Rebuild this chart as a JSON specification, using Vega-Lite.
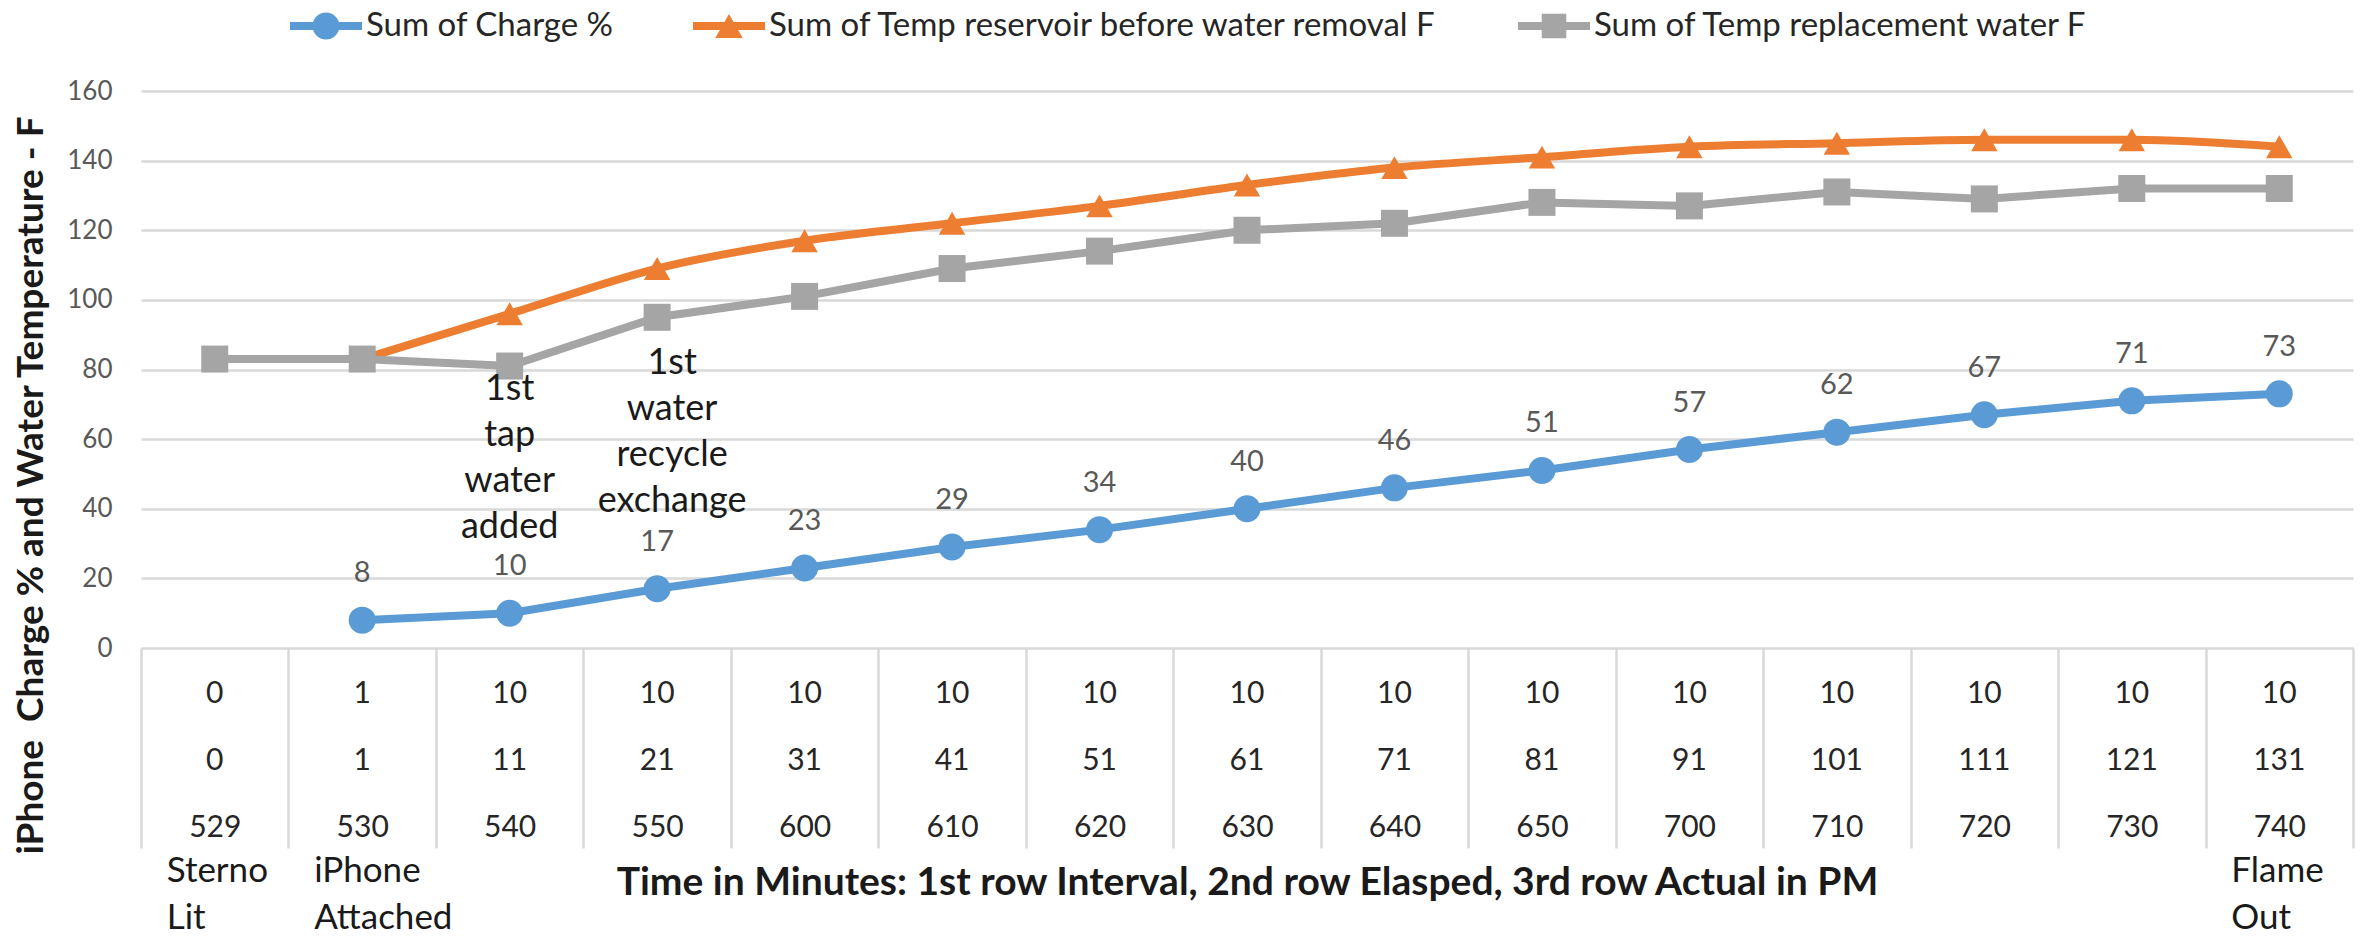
{
  "$schema": "https://vega.github.io/schema/vega-lite/v6.json",
  "autosize": "none",
  "width": 2212,
  "height": 557,
  "padding": {"left": 141, "top": 91, "right": 21, "bottom": 295},
  "background": "white",
  "config": {"font": "Lato", "view": {"stroke": null}},
  "datasets": {
    "table": [
      {"Actual": "529", "Interval": 0, "Elapsed": 0, "Event": "Sterno Lit"},
      {"Actual": "530", "Interval": 1, "Elapsed": 1, "Event": "iPhone Attached"},
      {"Actual": "540", "Interval": 10, "Elapsed": 11, "Event": null},
      {"Actual": "550", "Interval": 10, "Elapsed": 21, "Event": null},
      {"Actual": "600", "Interval": 10, "Elapsed": 31, "Event": null},
      {"Actual": "610", "Interval": 10, "Elapsed": 41, "Event": null},
      {"Actual": "620", "Interval": 10, "Elapsed": 51, "Event": null},
      {"Actual": "630", "Interval": 10, "Elapsed": 61, "Event": null},
      {"Actual": "640", "Interval": 10, "Elapsed": 71, "Event": null},
      {"Actual": "650", "Interval": 10, "Elapsed": 81, "Event": null},
      {"Actual": "700", "Interval": 10, "Elapsed": 91, "Event": null},
      {"Actual": "710", "Interval": 10, "Elapsed": 101, "Event": null},
      {"Actual": "720", "Interval": 10, "Elapsed": 111, "Event": null},
      {"Actual": "730", "Interval": 10, "Elapsed": 121, "Event": null},
      {"Actual": "740", "Interval": 10, "Elapsed": 131, "Event": "Flame Out"}
    ],
    "readings": [
      {"Actual": "529", "Note": null, "Sum of Charge %": null, "Sum of Temp reservoir before water removal F": null, "Sum of Temp replacement water F": 83},
      {"Actual": "530", "Note": null, "Sum of Charge %": 8, "Sum of Temp reservoir before water removal F": 83, "Sum of Temp replacement water F": 83},
      {"Actual": "540", "Note": "1st tap water added", "Sum of Charge %": 10, "Sum of Temp reservoir before water removal F": 96, "Sum of Temp replacement water F": 81},
      {"Actual": "550", "Note": "1st water recycle exchange", "Sum of Charge %": 17, "Sum of Temp reservoir before water removal F": 109, "Sum of Temp replacement water F": 95},
      {"Actual": "600", "Note": null, "Sum of Charge %": 23, "Sum of Temp reservoir before water removal F": 117, "Sum of Temp replacement water F": 101},
      {"Actual": "610", "Note": null, "Sum of Charge %": 29, "Sum of Temp reservoir before water removal F": 122, "Sum of Temp replacement water F": 109},
      {"Actual": "620", "Note": null, "Sum of Charge %": 34, "Sum of Temp reservoir before water removal F": 127, "Sum of Temp replacement water F": 114},
      {"Actual": "630", "Note": null, "Sum of Charge %": 40, "Sum of Temp reservoir before water removal F": 133, "Sum of Temp replacement water F": 120},
      {"Actual": "640", "Note": null, "Sum of Charge %": 46, "Sum of Temp reservoir before water removal F": 138, "Sum of Temp replacement water F": 122},
      {"Actual": "650", "Note": null, "Sum of Charge %": 51, "Sum of Temp reservoir before water removal F": 141, "Sum of Temp replacement water F": 128},
      {"Actual": "700", "Note": null, "Sum of Charge %": 57, "Sum of Temp reservoir before water removal F": 144, "Sum of Temp replacement water F": 127},
      {"Actual": "710", "Note": null, "Sum of Charge %": 62, "Sum of Temp reservoir before water removal F": 145, "Sum of Temp replacement water F": 131},
      {"Actual": "720", "Note": null, "Sum of Charge %": 67, "Sum of Temp reservoir before water removal F": 146, "Sum of Temp replacement water F": 129},
      {"Actual": "730", "Note": null, "Sum of Charge %": 71, "Sum of Temp reservoir before water removal F": 146, "Sum of Temp replacement water F": 132},
      {"Actual": "740", "Note": null, "Sum of Charge %": 73, "Sum of Temp reservoir before water removal F": 144, "Sum of Temp replacement water F": 132}
    ]
  },
  "encoding": {
    "x": {
      "field": "Actual",
      "type": "nominal",
      "bandPosition": 0.5,
      "scale": {"type": "band", "paddingInner": 0, "paddingOuter": 0},
      "axis": {
        "title": "Time in Minutes: 1st row Interval, 2nd row Elasped, 3rd row Actual in PM",
        "titleFont": "Lato",
        "titleFontWeight": "bold",
        "titleFontSize": 39,
        "titleColor": "#1a1a1a",
        "titleX": 1106,
        "titleY": 234,
        "titleAlign": "center",
        "titleBaseline": "middle",
        "labelAngle": 0,
        "labelFontSize": 30,
        "labelColor": "#262626",
        "labelPadding": -21,
        "labelBaseline": "middle",
        "labelOverlap": false,
        "labelFlush": false,
        "tickSize": 200,
        "tickColor": "#D9D9D9",
        "tickWidth": 2.5,
        "tickBand": "extent",
        "domain": false,
        "grid": false
      }
    }
  },
  "layer": [
    {
      "data": {"name": "readings"},
      "transform": [{"filter": "isValid(datum['Sum of Charge %'])"}],
      "mark": {"type": "line", "color": "#5B9BD5", "strokeWidth": 8, "point": {"filled": true, "shape": "circle", "size": 729, "color": "#5B9BD5"}},
      "encoding": {
        "y": {
          "field": "Sum of Charge %",
          "type": "quantitative",
          "scale": {"domain": [0, 160], "nice": false},
          "axis": {
            "title": "iPhone\u00a0 Charge % and Water Temperature - F",
            "titleFont": "Lato",
            "titleFontWeight": "bold",
            "titleFontSize": 37,
            "titleColor": "#1a1a1a",
            "titleAngle": 270,
            "titleX": -110,
            "titleY": 394,
            "titleAlign": "center",
            "titleBaseline": "middle",
            "values": [0, 20, 40, 60, 80, 100, 120, 140, 160],
            "labelFontSize": 26,
            "labelColor": "#595959",
            "labelPadding": 29,
            "ticks": false,
            "domain": false,
            "grid": true,
            "gridColor": "#D9D9D9",
            "gridWidth": 2.5
          }
        }
      }
    },
    {
      "data": {"name": "readings"},
      "transform": [{"filter": "isValid(datum['Sum of Temp reservoir before water removal F'])"}],
      "mark": {"type": "line", "color": "#ED7D31", "strokeWidth": 8, "interpolate": "monotone", "point": {"filled": true, "shape": "triangle-up", "size": 700, "color": "#ED7D31"}},
      "encoding": {
        "y": {"field": "Sum of Temp reservoir before water removal F", "type": "quantitative", "scale": {"domain": [0, 160], "nice": false}}
      }
    },
    {
      "data": {"name": "readings"},
      "transform": [{"filter": "isValid(datum['Sum of Temp replacement water F'])"}],
      "mark": {"type": "line", "color": "#A5A5A5", "strokeWidth": 8, "point": {"filled": true, "shape": "square", "size": 729, "color": "#A5A5A5"}},
      "encoding": {
        "y": {"field": "Sum of Temp replacement water F", "type": "quantitative", "scale": {"domain": [0, 160], "nice": false}}
      }
    },
    {
      "data": {"name": "readings"},
      "transform": [
        {"fold": ["Sum of Charge %", "Sum of Temp reservoir before water removal F", "Sum of Temp replacement water F"], "as": ["series", "value"]},
        {"filter": "isValid(datum.value)"}
      ],
      "mark": {"type": "point", "filled": true, "opacity": 0, "size": 5184},
      "encoding": {
        "y": {"field": "value", "type": "quantitative", "scale": {"domain": [0, 160], "nice": false}},
        "color": {
          "field": "series",
          "type": "nominal",
          "scale": {
            "domain": ["Sum of Charge %", "Sum of Temp reservoir before water removal F", "Sum of Temp replacement water F"],
            "range": ["#5B9BD5", "#ED7D31", "#A5A5A5"]
          },
          "legend": {
            "title": null,
            "orient": "none",
            "legendX": 149,
            "legendY": -101,
            "direction": "horizontal",
            "columns": 3,
            "columnPadding": 79,
            "padding": 0,
            "labelOffset": 4,
            "labelFont": "Lato",
            "labelFontSize": 33,
            "labelColor": "#262626",
            "labelLimit": 0,
            "symbolSize": 5184,
            "symbolStrokeWidth": 0,
            "symbolOpacity": 1
          }
        },
        "shape": {
          "field": "series",
          "type": "nominal",
          "scale": {
            "domain": ["Sum of Charge %", "Sum of Temp reservoir before water removal F", "Sum of Temp replacement water F"],
            "range": [
              "M-1,-0.11H1V0.11H-1Z M-0.375,0A0.375,0.375 0 1,1 0.375,0A0.375,0.375 0 1,1 -0.375,0Z",
              "M-1,-0.11H1V0.11H-1Z M0,-0.33L0.38,0.33L-0.38,0.33Z",
              "M-1,-0.11H1V0.11H-1Z M-0.34,-0.34H0.34V0.34H-0.34Z"
            ]
          },
          "legend": {
            "title": null,
            "orient": "none",
            "legendX": 149,
            "legendY": -101,
            "direction": "horizontal",
            "columns": 3,
            "columnPadding": 79,
            "padding": 0,
            "labelOffset": 4,
            "labelFont": "Lato",
            "labelFontSize": 33,
            "labelColor": "#262626",
            "labelLimit": 0,
            "symbolSize": 5184,
            "symbolStrokeWidth": 0,
            "symbolOpacity": 1
          }
        }
      }
    },
    {
      "data": {"name": "readings"},
      "transform": [{"filter": "isValid(datum['Sum of Charge %'])"}],
      "mark": {"type": "text", "dy": -47, "fontSize": 29, "color": "#595959", "baseline": "middle"},
      "encoding": {
        "y": {"field": "Sum of Charge %", "type": "quantitative", "scale": {"domain": [0, 160], "nice": false}},
        "text": {"field": "Sum of Charge %", "type": "quantitative"}
      }
    },
    {
      "data": {"name": "readings"},
      "transform": [{"filter": "datum.Actual === '540'"}],
      "mark": {"type": "text", "dy": -241, "fontSize": 36, "color": "#1a1a1a", "baseline": "top", "lineBreak": " ", "lineHeight": 46},
      "encoding": {
        "y": {"field": "Sum of Charge %", "type": "quantitative", "scale": {"domain": [0, 160], "nice": false}},
        "text": {"field": "Note", "type": "nominal"}
      }
    },
    {
      "data": {"name": "readings"},
      "transform": [{"filter": "datum.Actual === '550'"}],
      "mark": {"type": "text", "dx": 15, "dy": -243, "fontSize": 36, "color": "#1a1a1a", "baseline": "top", "lineBreak": " ", "lineHeight": 46},
      "encoding": {
        "y": {"field": "Sum of Charge %", "type": "quantitative", "scale": {"domain": [0, 160], "nice": false}},
        "text": {"field": "Note", "type": "nominal"}
      }
    },
    {
      "data": {"name": "table"},
      "mark": {"type": "text", "dy": 46, "fontSize": 30, "color": "#262626", "baseline": "middle"},
      "encoding": {"y": {"datum": 0, "type": "quantitative"}, "text": {"field": "Interval", "type": "quantitative"}}
    },
    {
      "data": {"name": "table"},
      "mark": {"type": "text", "dy": 113, "fontSize": 30, "color": "#262626", "baseline": "middle"},
      "encoding": {"y": {"datum": 0, "type": "quantitative"}, "text": {"field": "Elapsed", "type": "quantitative"}}
    },
    {
      "data": {"name": "table"},
      "transform": [{"filter": "isValid(datum.Event)"}],
      "mark": {"type": "text", "align": "left", "dx": -48, "dy": 206, "fontSize": 35, "color": "#1a1a1a", "baseline": "top", "lineBreak": " ", "lineHeight": 47},
      "encoding": {"y": {"datum": 0, "type": "quantitative"}, "text": {"field": "Event", "type": "nominal"}}
    }
  ]
}
